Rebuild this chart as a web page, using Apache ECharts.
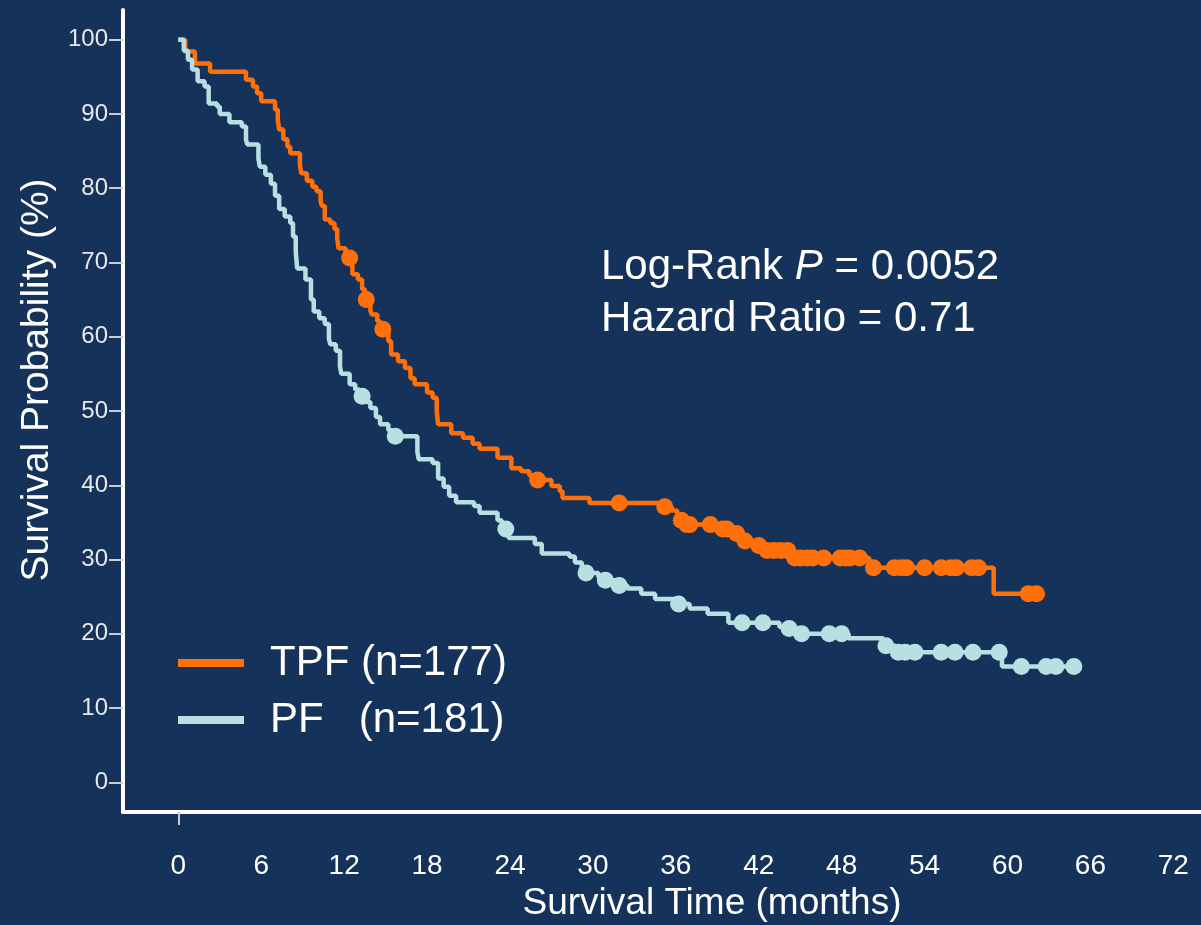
<!DOCTYPE html>
<html>
<head>
<meta charset="utf-8">
<script src="https://cdn.jsdelivr.net/npm/echarts@6/dist/echarts.min.js"></script>
<style>
html, body { margin: 0; padding: 0; background: #15325a; }
#main { width: 1201px; height: 925px; }
</style>
</head>
<body>
<div id="main"></div>
<script>
// Kaplan-Meier steps (months, % surviving)
var tpfTime = [0, 0.5, 1.2, 2.3, 4.9, 5.4, 5.7, 6.0, 7.0, 7.2, 7.3, 7.6, 7.9, 8.1, 8.8, 8.9, 9.3, 9.7, 10.0, 10.3,
    10.4, 10.6, 11.0, 11.3, 11.5, 11.6, 12.1, 12.6, 13.0, 13.3, 13.5, 13.9, 14.0, 14.4, 14.6, 15.2, 15.4, 15.9, 16.4, 16.8,
    17.1, 18.0, 18.4, 18.7, 18.8, 19.75, 20.6, 21.3, 21.8, 23.1, 24.1, 24.8, 25.4, 25.7, 27.0, 27.6, 27.8, 29.75, 35.0, 35.7,
    36.1, 36.4, 36.7, 39.3, 40.2, 40.8, 41.7, 42.4, 44.4, 50.0, 59.0, 62.1];
var tpfSurv = [100, 98.4, 96.8, 95.7, 94.6, 93.7, 92.8, 91.7, 90.6, 89.2, 87.9, 86.6, 85.6, 84.7, 83.2, 82.0, 81.0, 80.2, 79.6, 78.2,
    77.6, 75.8, 75.3, 74.5, 73.2, 71.9, 70.6, 68.4, 67.7, 66.4, 65.0, 63.5, 63.0, 62.1, 61.0, 59.4, 57.6, 56.7, 55.8, 54.4,
    53.6, 52.5, 51.8, 50.0, 48.2, 47.0, 46.4, 45.6, 44.9, 43.7, 42.3, 41.9, 41.3, 40.7, 39.9, 39.2, 38.3, 37.6, 37.1, 36.6,
    35.9, 35.3, 34.7, 34.1, 33.5, 32.5, 31.9, 31.2, 30.2, 28.9, 25.4, 25.4];
var tpfCensor = [12.4, 13.6, 14.8, 26.0, 31.9, 35.2, 36.4, 36.8, 37.0, 38.5, 39.4, 39.7, 40.4, 41.0, 42.0, 42.6, 43.1, 43.6,
    44.1, 44.6, 45.0, 45.5, 45.9, 46.7, 47.9, 48.3, 48.6, 49.3, 50.3, 51.8, 52.3, 52.7, 54.0, 55.2, 55.9, 56.3, 57.4, 57.9,
    61.5, 62.1];

var pfTime = [0, 0.4, 0.7, 1.0, 1.4, 1.9, 2.2, 2.8, 3.0, 3.7, 4.6, 4.9, 5.0, 5.8, 5.9, 6.3, 6.7, 7.0, 7.3, 7.7,
    8.1, 8.3, 8.5, 8.6, 9.2, 9.6, 9.8, 10.2, 10.6, 10.9, 11.0, 11.4, 11.7, 11.8, 12.4, 12.8, 13.1, 13.5, 13.9, 14.3,
    14.6, 15.2, 15.5, 17.3, 17.4, 18.4, 18.8, 19.2, 19.6, 20.1, 21.4, 21.8, 23.1, 23.4, 23.9, 25.8, 26.3, 28.3, 28.7, 29.2,
    30.4, 30.7, 31.6, 32.5, 33.5, 34.5, 36.0, 37.0, 38.3, 39.8, 43.5, 44.0, 44.9, 48.5, 51.0, 51.9, 59.6, 64.8];
var pfSurv = [100, 98.5, 97.3, 96.0, 94.4, 93.7, 91.4, 91.0, 90.0, 88.9, 88.3, 86.5, 85.9, 84.0, 82.9, 81.8, 80.6, 79.0, 77.2, 76.2,
    75.3, 73.5, 71.5, 69.2, 67.7, 65.0, 63.4, 62.5, 61.7, 59.7, 59.0, 58.1, 56.0, 55.0, 53.6, 52.9, 52.0, 51.2, 50.4, 49.2,
    48.2, 47.4, 46.6, 44.5, 43.5, 43.0, 40.9, 39.8, 38.6, 37.7, 37.2, 36.3, 35.3, 34.1, 32.9, 32.1, 30.8, 30.4, 29.6, 28.2,
    27.6, 27.2, 26.5, 26.1, 25.4, 24.7, 24.0, 23.4, 22.7, 21.5, 20.9, 20.7, 20.0, 19.4, 18.4, 17.5, 15.6, 15.6];
var pfCensor = [13.3, 15.7, 23.7, 29.5, 30.9, 31.9, 36.2, 40.8, 42.3, 44.2, 45.1, 47.1, 48.0, 51.2, 52.1, 52.6, 53.3, 55.2,
    56.2, 57.5, 59.4, 61.0, 62.8, 63.5, 64.8];

var xTicks = [0, 6, 12, 18, 24, 30, 36, 42, 48, 54, 60, 66, 72];
var yTicks = [0, 10, 20, 30, 40, 50, 60, 70, 80, 90, 100];

var tpfName = 'TPF (n=177)';
var pfName = 'PF   (n=181)';
var tpfColor = '#ff700a';
var pfColor = '#b8e0e3';
var font = '"Liberation Sans", Arial, sans-serif';

function stepData(times, surv) {
    return times.map(function (t, i) { return [t, surv[i]]; });
}
// censored marks sit on the curve level at that time
function censorData(cens, times, surv) {
    return cens.map(function (c) {
        var s = surv[0];
        for (var i = 0; i < times.length; i++) {
            if (times[i] <= c) s = surv[i];
        }
        return [c, s];
    });
}

var myChart = echarts.init(document.getElementById('main'));

var option = {
    backgroundColor: '#15325a',
    animation: false,
    grid: { left: 123, right: 0, top: 10, bottom: 113, containLabel: false, outerBoundsMode: 'none' },
    xAxis: {
        type: 'value',
        min: -4,
        max: 74,
        splitLine: { show: false },
        axisLine: { show: true, onZero: false, lineStyle: { color: '#ffffff', width: 4 } },
        axisTick: { show: true, customValues: [0], length: 13, lineStyle: { color: '#c8ccd4', width: 2 } },
        axisLabel: { customValues: xTicks, margin: 40, fontSize: 28, color: '#ffffff', fontFamily: font },
        name: 'Survival Time (months)',
        nameLocation: 'middle',
        nameGap: 71,
        nameTextStyle: { fontSize: 37, color: '#ffffff', fontFamily: font, padding: [0, 0, 0, 100] }
    },
    yAxis: {
        type: 'value',
        min: -4,
        max: 104,
        splitLine: { show: false },
        axisLine: { show: true, onZero: false, lineStyle: { color: '#ffffff', width: 4 } },
        axisTick: { show: true, customValues: yTicks, length: 14, lineStyle: { color: '#c8ccd4', width: 2 } },
        axisLabel: { customValues: yTicks, margin: 15, fontSize: 24, color: '#e8e8e8', fontFamily: font },
        name: 'Survival Probability (%)',
        nameLocation: 'middle',
        nameGap: 66,
        nameTextStyle: { fontSize: 39, color: '#ffffff', fontFamily: font, padding: [0, 0, 0, 62] }
    },
    legend: {
        orient: 'vertical',
        left: 178,
        top: 635,
        padding: 0,
        itemGap: 1,
        itemWidth: 66,
        itemHeight: 8,
        selectedMode: false,
        data: [{ name: tpfName, icon: 'rect' }, { name: pfName, icon: 'rect' }],
        textStyle: { color: '#ffffff', fontSize: 42, fontFamily: font, lineHeight: 56, padding: [0, 0, 0, 21] }
    },
    graphic: [
        {
            type: 'text', x: 601, y: 267,
            style: {
                text: '{a|Log-Rank }{i|P}{a| = 0.0052}',
                verticalAlign: 'middle',
                fill: '#ffffff',
                rich: {
                    a: { fontSize: 42, fontFamily: font, fill: '#ffffff' },
                    i: { fontSize: 42, fontFamily: font, fontStyle: 'italic', fill: '#ffffff' }
                }
            }
        },
        {
            type: 'text', x: 601, y: 319,
            style: {
                text: 'Hazard Ratio = 0.71',
                verticalAlign: 'middle',
                fill: '#ffffff',
                fontSize: 42,
                fontFamily: font
            }
        }
    ],
    series: [
        {
            name: tpfName,
            type: 'line',
            step: 'end',
            showSymbol: false,
            data: stepData(tpfTime, tpfSurv),
            itemStyle: { color: tpfColor },
            lineStyle: { color: tpfColor, width: 4.5 },
            z: 2
        },
        {
            name: 'TPF censored',
            type: 'scatter',
            symbol: 'circle',
            symbolSize: 17,
            data: censorData(tpfCensor, tpfTime, tpfSurv),
            itemStyle: { color: tpfColor, opacity: 1 },
            z: 3
        },
        {
            name: pfName,
            type: 'line',
            step: 'end',
            showSymbol: false,
            data: stepData(pfTime, pfSurv),
            itemStyle: { color: pfColor },
            lineStyle: { color: pfColor, width: 4.5 },
            z: 4
        },
        {
            name: 'PF censored',
            type: 'scatter',
            symbol: 'circle',
            symbolSize: 17,
            data: censorData(pfCensor, pfTime, pfSurv),
            itemStyle: { color: pfColor, opacity: 1 },
            z: 5
        }
    ]
};

myChart.setOption(option);
</script>
</body>
</html>
